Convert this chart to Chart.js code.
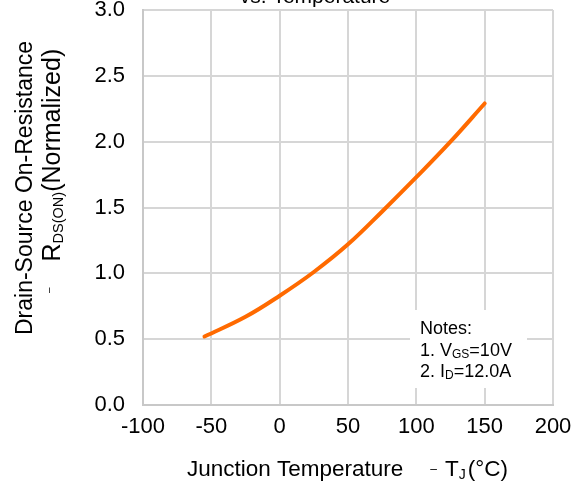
<!DOCTYPE html>
<html lang="en">
<head>
    <meta charset="UTF-8">
    <title>On-Resistance vs. Temperature</title>
    <script src="https://cdn.jsdelivr.net/npm/chart.js"></script>
    <style>
        html, body {
            margin: 0;
            padding: 0;
            background: #ffffff;
        }
        #wrap {
            width: 579px;
            height: 485px;
            position: relative;
        }
    </style>
</head>
<body>
    <div id="wrap">
        <canvas id="rdsChart" width="579" height="485"></canvas>
    </div>

    <script>
        // curve
        const tempC = [-55, -25, 0, 25, 50, 75, 100, 125, 150];
        const rdsNorm = [0.52, 0.67, 0.83, 1.01, 1.22, 1.47, 1.73, 2.00, 2.29];

        const xTicks = [-100, -50, 0, 50, 100, 150, 200];
        const yTicks = [0.0, 0.5, 1.0, 1.5, 2.0, 2.5, 3.0];

        const FONT = '"Liberation Sans", Arial, sans-serif';
        const gridGray = '#d6d6d6';

        // draws text pieces one after another (for subscripts)
        function drawPieces(ctx, pieces, x, y) {
            let cx = x;
            pieces.forEach(p => {
                ctx.font = p.size + 'px ' + FONT;
                ctx.fillText(p.t, cx, y + (p.dy || 0));
                cx += ctx.measureText(p.t).width + (p.gap || 0);
            });
        }

        const labelsPlugin = {
            id: 'labels',
            afterDatasetsDraw(chart) {
                const ctx = chart.ctx;
                ctx.save();
                ctx.fillStyle = '#000';
                ctx.textBaseline = 'alphabetic';

                // title, mostly cut off at the top
                ctx.font = '21px ' + FONT;
                ctx.textAlign = 'center';
                ctx.fillText('vs. Temperature', 315, 3);

                // notes box
                ctx.fillStyle = '#fff';
                ctx.fillRect(410, 310, 117, 78);
                ctx.fillStyle = '#000';
                ctx.textAlign = 'left';
                ctx.font = '18px ' + FONT;
                ctx.fillText('Notes:', 420, 334);
                drawPieces(ctx, [
                    { t: '1. V', size: 18 },
                    { t: 'GS', size: 12, dy: 2 },
                    { t: '=10V', size: 18 }
                ], 420, 356);
                drawPieces(ctx, [
                    { t: '2. I', size: 18 },
                    { t: 'D', size: 12, dy: 2 },
                    { t: '=12.0A', size: 18 }
                ], 420, 377);

                // x axis title
                drawPieces(ctx, [
                    { t: 'Junction Temperature', size: 22.5, gap: 27 },
                    { t: '\u2013', size: 12, dy: -3, gap: 8 },
                    { t: 'T', size: 22.5 },
                    { t: 'J', size: 14, dy: 3, gap: 2 },
                    { t: '(\u00b0C)', size: 22.5 }
                ], 187, 476);

                // y axis title, two rotated lines
                ctx.save();
                ctx.translate(32, 188);
                ctx.rotate(-Math.PI / 2);
                ctx.textAlign = 'center';
                ctx.font = '23px ' + FONT;
                ctx.fillText('Drain-Source On-Resistance', 0, 0);
                ctx.restore();

                ctx.save();
                ctx.translate(60, 293);
                ctx.rotate(-Math.PI / 2);
                ctx.textAlign = 'left';
                drawPieces(ctx, [
                    { t: '\u2013', size: 10, dy: -8, gap: 26 },
                    { t: 'R', size: 25 },
                    { t: 'DS(ON)', size: 14.5, dy: 3 },
                    { t: '(Normalized)', size: 25 }
                ], 0, 0);
                ctx.restore();

                ctx.restore();
            }
        };

        const ctx = document.getElementById('rdsChart').getContext('2d');
        const rdsChart = new Chart(ctx, {
            type: 'line',
            data: {
                datasets: [{
                    data: tempC.map((t, i) => ({ x: t, y: rdsNorm[i] })),
                    borderColor: '#ff6a00',
                    borderWidth: 4,
                    borderCapStyle: 'round',
                    pointRadius: 0,
                    fill: false,
                    tension: 0.4
                }]
            },
            options: {
                responsive: false,
                animation: false,
                events: [],
                layout: {
                    padding: { left: 0, right: 26, top: 10, bottom: 0 }
                },
                plugins: {
                    legend: { display: false },
                    tooltip: { enabled: false }
                },
                scales: {
                    x: {
                        type: 'linear',
                        min: -100,
                        max: 200,
                        afterFit: s => {
                            s.height = 80;
                            s.paddingLeft = 0;
                            s.paddingRight = 0;
                        },
                        afterBuildTicks: s => { s.ticks = xTicks.map(v => ({ value: v })); },
                        grid: { color: gridGray, lineWidth: 2, drawTicks: false },
                        border: { color: '#c8c8c8', width: 2 },
                        ticks: {
                            color: '#000',
                            padding: 9,
                            maxRotation: 0,
                            font: { family: FONT, size: 22 }
                        }
                    },
                    y: {
                        min: 0,
                        max: 3,
                        afterFit: s => {
                            s.width = 143;
                            s.paddingTop = 0;
                            s.paddingBottom = 0;
                        },
                        afterBuildTicks: s => { s.ticks = yTicks.map(v => ({ value: v })); },
                        grid: { color: gridGray, lineWidth: 2, drawTicks: false },
                        border: { color: '#c8c8c8', width: 2 },
                        ticks: {
                            color: '#000',
                            padding: 18,
                            font: { family: FONT, size: 22 },
                            callback: v => v.toFixed(1)
                        }
                    }
                }
            },
            plugins: [labelsPlugin]
        });
    </script>
</body>
</html>
